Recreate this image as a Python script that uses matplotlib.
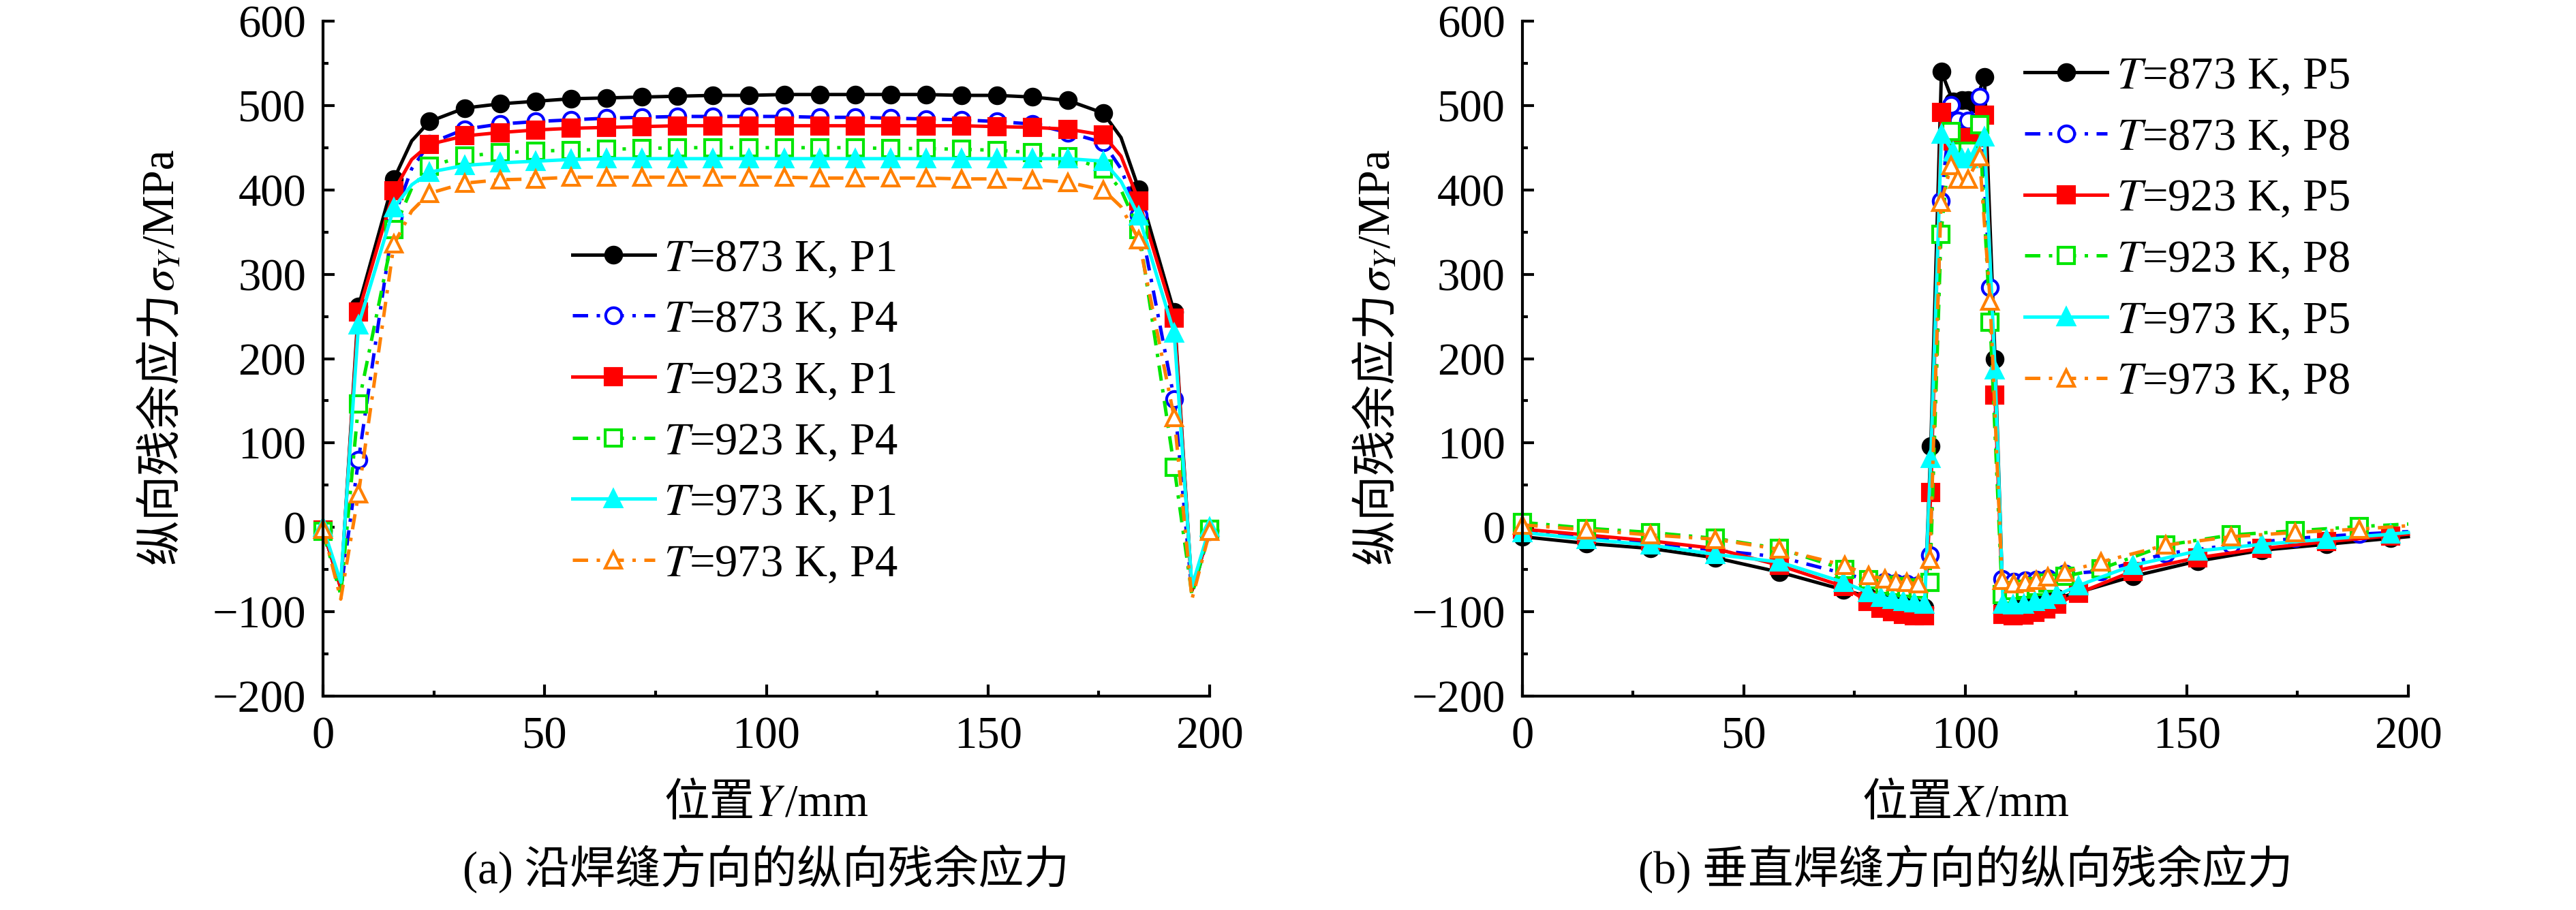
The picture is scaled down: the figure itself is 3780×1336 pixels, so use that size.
import matplotlib
matplotlib.use("Agg")
import matplotlib.pyplot as plt
from matplotlib.ticker import MultipleLocator

plt.rcParams.update({
    "font.family": ["Liberation Serif", "Noto Sans CJK SC"],
    "mathtext.fontset": "stix",
    "font.size": 16,
    "axes.linewidth": 1.0,
    "xtick.direction": "in", "ytick.direction": "in",
    "xtick.major.size": 4.0, "ytick.major.size": 4.0,
    "xtick.minor.size": 2.0, "ytick.minor.size": 2.0,
    "xtick.major.width": 1.0, "ytick.major.width": 1.0,
    "xtick.minor.width": 1.0, "ytick.minor.width": 1.0,
    "xtick.major.pad": 7.0, "ytick.major.pad": 6.0,
    "axes.unicode_minus": True,
})

# ---- (a) along the weld: position Y (mm) ----
Y_POS = [0, 4, 8, 16, 20, 24, 32, 40, 48, 56, 64, 72, 80, 88, 96, 104, 112, 120,
         128, 136, 144, 152, 160, 168, 176, 180, 184, 192, 196, 200]
A_MARKED = [i for i in range(len(Y_POS)) if i not in (1, 4, 25, 28)]
A_LABELS = ["873 K, P1", "873 K, P4", "923 K, P1", "923 K, P4", "973 K, P1", "973 K, P4"]
a_873_p1 = [-3, -72, 262, 413, 458, 481, 497, 502, 505, 508, 509, 510, 511, 512, 512, 513,
            513, 513, 513, 513, 512, 512, 510, 506, 491, 462, 401, 255, -75, -3]
a_873_p4 = [-5, -75, 80, 368, 425, 455, 472, 478, 481, 483, 485, 486, 487, 487, 487, 487,
            486, 486, 485, 484, 483, 481, 478, 468, 456, 425, 370, 152, -78, -5]
a_923_p1 = [-3, -72, 255, 399, 436, 454, 464, 468, 471, 473, 474, 475, 476, 476, 476, 476,
            476, 476, 476, 476, 476, 475, 474, 472, 465, 440, 387, 248, -75, -3]
a_923_p4 = [-5, -80, 146, 353, 402, 428, 440, 444, 446, 447, 448, 449, 450, 450, 450, 450,
            450, 450, 449, 449, 448, 447, 444, 439, 425, 400, 353, 71, -80, -2]
a_973_p1 = [0, -65, 240, 379, 406, 421, 429, 432, 434, 436, 437, 437, 437, 437, 437, 437,
            437, 437, 437, 437, 437, 437, 437, 437, 434, 410, 369, 230, -70, 0]
a_973_p4 = [-2, -85, 40, 336, 375, 396, 408, 412, 413, 415, 415, 415, 415, 415, 415, 415,
            414, 414, 414, 414, 413, 413, 412, 409, 400, 380, 341, 130, -85, -5]

# ---- (b) across the weld: position X (mm) ----
X_P5 = [0, 14.5, 29, 43.5, 58, 72.5, 78, 81, 83.5, 86, 88.5, 90.8, 92.2, 94.6, 97.2, 99.2,
        100.6, 102.2, 104.3, 106.7, 108.5, 110.8, 113.2, 115.7, 118.2, 120.7, 125.5, 137.8,
        152.4, 167, 181.5, 196, 200]
X_P8 = [0, 14.5, 29, 43.5, 58, 72.8, 78.1, 81.8, 84.3, 86.8, 89.4, 92.0, 94.5, 96.8, 98.3,
        100.6, 103.2, 105.6, 108.3, 110.9, 113.5, 116, 118.6, 122.5, 130.6, 145.3, 160,
        174.5, 189, 200]
B_LABELS = ["873 K, P5", "873 K, P8", "923 K, P5", "923 K, P8", "973 K, P5", "973 K, P8"]
b_873_p5 = [-11, -19, -25, -36, -53, -74, -82, -88, -91, -93, -94, -95, 96, 540, 505, 506,
            506, 502, 534, 200, -93, -94, -93, -91, -88, -84, -77, -58, -40, -27, -20, -13, -11]
b_873_p8 = [-4, -11, -18, -27, -35, -55, -62, -64, -66, -67, -68, -33, 387, 501, 482, 482,
            510, 284, -61, -64, -63, -62, -60, -55, -52, -31, -21, -13, -8, -5]
b_923_p5 = [-2, -9, -16, -25, -45, -70, -88, -96, -100, -103, -105, -105, 41, 492, 458, 462,
            462, 462, 489, 157, -103, -105, -104, -101, -97, -91, -78, -52, -36, -25, -17, -10, -8]
b_923_p8 = [6, -1, -6, -13, -25, -50, -62, -68, -70, -72, -73, -65, 347, 469, 446, 446,
            477, 243, -80, -75, -73, -70, -66, -58, -49, -21, -9, -4, 1, 4]
b_973_p5 = [-6, -14, -21, -32, -41, -65, -77, -83, -85, -88, -89, -91, 82, 466, 445, 437,
            437, 440, 463, 187, -91, -92, -91, -88, -85, -80, -69, -45, -28, -20, -14, -8, -6]
b_973_p8 = [3, -3, -9, -14, -26, -45, -57, -61, -64, -65, -67, -38, 385, 429, 413, 413,
            439, 268, -63, -67, -65, -63, -59, -53, -41, -21, -11, -6, -2, 2]

DASHDOT = (0, (4.5, 2.5, 1, 2.5))
STYLES = [
    dict(color="black", ls="-", marker="o", mfc="black"),
    dict(color="#0000FF", ls=DASHDOT, marker="o", mfc="white"),
    dict(color="#FF0000", ls="-", marker="s", mfc="#FF0000"),
    dict(color="#00E600", ls=DASHDOT, marker="s", mfc="white"),
    dict(color="#00FFFF", ls="-", marker="^", mfc="#00FFFF"),
    dict(color="#FF8000", ls=DASHDOT, marker="^", mfc="white"),
]


def style_axes(ax):
    ax.set_xlim(0, 200); ax.set_ylim(-200, 600)
    ax.spines["top"].set_visible(False); ax.spines["right"].set_visible(False)
    ax.xaxis.set_major_locator(MultipleLocator(50)); ax.xaxis.set_minor_locator(MultipleLocator(25))
    ax.yaxis.set_major_locator(MultipleLocator(100)); ax.yaxis.set_minor_locator(MultipleLocator(50))


def draw(ax, xs, series, labels, markevery, anchor):
    for x, y, lab, st in zip(xs, series, labels, STYLES):
        ax.plot(x, y, color=st["color"], ls=st["ls"], lw=1.2, marker=st["marker"],
                mfc=st["mfc"], mec=st["color"], mew=1.0, ms=5.6,
                markevery=markevery, label=r"$T$=" + lab, clip_on=False)
    ax.legend(loc="upper left", bbox_to_anchor=anchor, frameon=False, borderpad=0,
              borderaxespad=0, handlelength=1.82, handletextpad=0.2, labelspacing=0.43)
    style_axes(ax)


def chain_text(fig, cx, cy, pieces, vertical=False):
    # mathtext strings get no CJK fallback, so lay plain and math pieces side by side
    r = fig.canvas.get_renderer()
    W, H = fig.bbox.width, fig.bbox.height
    off = 0.34 * plt.rcParams["font.size"] * fig.dpi / 72
    texts, lens = [], []
    for p in pieces:
        t = fig.text(0, 0, p, ha="left", va="baseline", rotation=90 if vertical else 0,
                     rotation_mode="anchor")
        bb = t.get_window_extent(r)
        texts.append(t); lens.append(bb.height if vertical else bb.width)
    pos = (cy * H if vertical else cx * W) - sum(lens) / 2
    for t, L in zip(texts, lens):
        if vertical:
            t.set_position(((cx * W + off) / W, pos / H))
        else:
            t.set_position((pos / W, (cy * H - off) / H))
        pos += L


fig = plt.figure(figsize=(12.6, 1336 / 300), dpi=300)
ax1 = fig.add_axes([0.1254, 0.235, 0.3442, 0.7418])
ax2 = fig.add_axes([0.5910, 0.235, 0.3439, 0.7418])

draw(ax1, [Y_POS] * 6, [a_873_p1, a_873_p4, a_923_p1, a_923_p4, a_973_p1, a_973_p4],
     A_LABELS, A_MARKED, (0.281, 0.678))
draw(ax2, [X_P5, X_P8, X_P5, X_P8, X_P5, X_P8],
     [b_873_p5, b_873_p8, b_923_p5, b_923_p8, b_973_p5, b_973_p8],
     B_LABELS, slice(0, -1), (0.567, 0.948))

ylab = ["纵向残余应力", r"$\sigma_Y$", "/MPa"]
chain_text(fig, 0.0614, 0.608, ylab, vertical=True)
chain_text(fig, 0.5333, 0.608, ylab, vertical=True)
chain_text(fig, 0.2974, 0.1205, ["位置", r"$Y$", "/mm"])
chain_text(fig, 0.7630, 0.1205, ["位置", r"$X$", "/mm"])
fig.text(0.2974, 0.045, "(a) 沿焊缝方向的纵向残余应力", ha="center", va="center")
fig.text(0.7630, 0.045, "(b) 垂直焊缝方向的纵向残余应力", ha="center", va="center")

fig.savefig("out.png", dpi=300)
